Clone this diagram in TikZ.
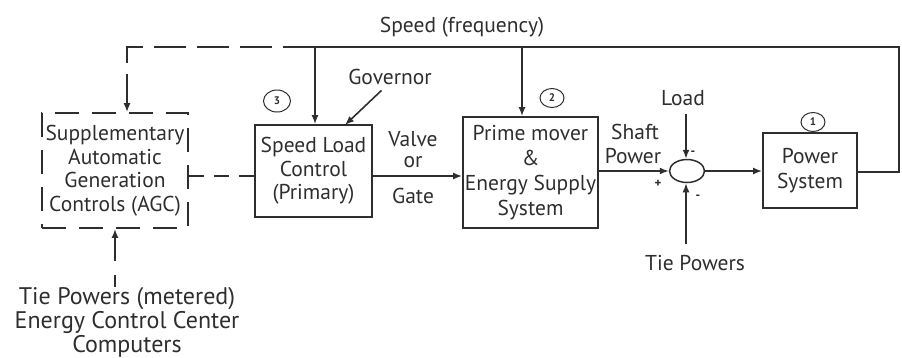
\documentclass[tikz,border=0pt]{standalone}
\usepackage{fontspec}
\setmainfont{PT Sans}
\usetikzlibrary{arrows.meta,shapes.geometric,calc}
\definecolor{ink}{HTML}{2E2E2E}
\tikzset{
  blk/.style={draw=ink, line width=1.8pt, align=center, inner sep=0pt, text=ink,
    font=\fontsize{21.5}{23.5}\selectfont},
  dblk/.style={blk, dash pattern=on 24pt off 13pt},
  wire/.style={draw=ink, line width=1.6pt},
  arr/.style={wire, -{Latex[length=9pt,width=7pt]}},
  lbl/.style={text=ink, inner sep=0pt, align=center, font=\fontsize{21.5}{23.5}\selectfont},
  num/.style={draw=ink, line width=1pt, ellipse, minimum width=24pt, minimum height=19pt,
    inner sep=0pt, text=ink, font=\bfseries\fontsize{11}{12}\selectfont},
  sgn/.style={text=ink, inner sep=0pt, font=\bfseries\fontsize{13}{13}\selectfont}
}
\begin{document}
\begin{tikzpicture}[x=1pt,y=-1pt]
\useasboundingbox (0,0) rectangle (902,357);
% blocks
\node[dblk, minimum width=146pt, minimum height=115pt] (agc) at (115,170.5)
  {Supplementary\\Automatic\\Generation\\Controls (AGC)};
\node[blk, minimum width=117pt, minimum height=92pt] (slc) at (313.5,171)
  {Speed Load\\Control\\(Primary)};
\node[blk, minimum width=135pt, minimum height=111pt, font=\fontsize{21.5}{25}\selectfont] (pm) at (530.5,172.5)
  {Prime mover\\\&\\Energy Supply\\System};
\node[blk, minimum width=94pt, minimum height=75pt, font=\fontsize{21.5}{25}\selectfont] (ps) at (810,170.5)
  {Power\\System};
\node[draw=ink, line width=1.5pt, ellipse, minimum width=35pt, minimum height=23pt, inner sep=0pt] (sum) at (687,171) {};
% numbers
\node[num, minimum width=27pt, minimum height=22pt] (n3) at (277,101) {3};
\node[num] (n2) at (552,98) {2};
\node[num] (n1) at (813,122) {1};
% labels
\node[lbl] (speed) at (462,27) {Speed (frequency)};
\node[lbl] (gov) at (390,77) {Governor};
\node[lbl] (valve) at (413,139) {Valve};
\node[lbl] (or) at (413,162) {or};
\node[lbl] (gate) at (413,196) {Gate};
\node[lbl] (shaft) at (635,132) {Shaft};
\node[lbl] (power) at (633,156) {Power};
\node[lbl] (load) at (683,98) {Load};
\node[lbl] (tie) at (695,263) {Tie Powers};
\node[lbl, font=\fontsize{24}{24}\selectfont] (ecc) at (127,322)
  {Tie Powers (metered)\\Energy Control Center\\Computers};
\node[sgn] (m1) at (693,153) {-};
\node[sgn] (p1) at (658,184) {+};
\node[sgn] (m2) at (698,197) {-};
% coordinates
\coordinate (re) at (899,172);
\coordinate (rt) at (899,47);
\coordinate (ts) at (315,47);
\coordinate (tp) at (522,47);
\coordinate (ta) at (127,47);
\coordinate (gv) at (345,125);
\coordinate (ld) at (686,114);
\coordinate (tb) at (686,244);
\coordinate (ab) at (115,287);
% feedback
\draw[wire] (ps.east |- re) -- (re) -- (rt) -- (ts);
\draw[arr] (ts) -- (ts |- slc.north);
\draw[arr] (tp) -- (tp |- pm.north);
\draw[arr, dash pattern=on 32pt off 11pt] (ts) -- (ta) -- (ta |- agc.north);
% forward path
\draw[wire, dash pattern=on 15pt off 10pt] (agc.east |- 0,176) -- (slc.west |- 0,176);
\draw[arr] (slc.east |- 0,176) -- (pm.west |- 0,176);
\draw[arr] (pm.east |- sum.west) -- (sum.west);
\draw[arr] (sum.east) -- (ps.west |- sum.east);
\draw[arr] (ld) -- (sum.north -| ld);
\draw[arr] (tb) -- (sum.south -| tb);
\draw[arr, shorten <=2pt] (gov.south) ++(-7,4) -- (gv);
\draw[arr, dash pattern=on 12pt off 14pt on 40pt off 0pt] (ab) -- (ab |- agc.south);
\end{tikzpicture}
\end{document}
